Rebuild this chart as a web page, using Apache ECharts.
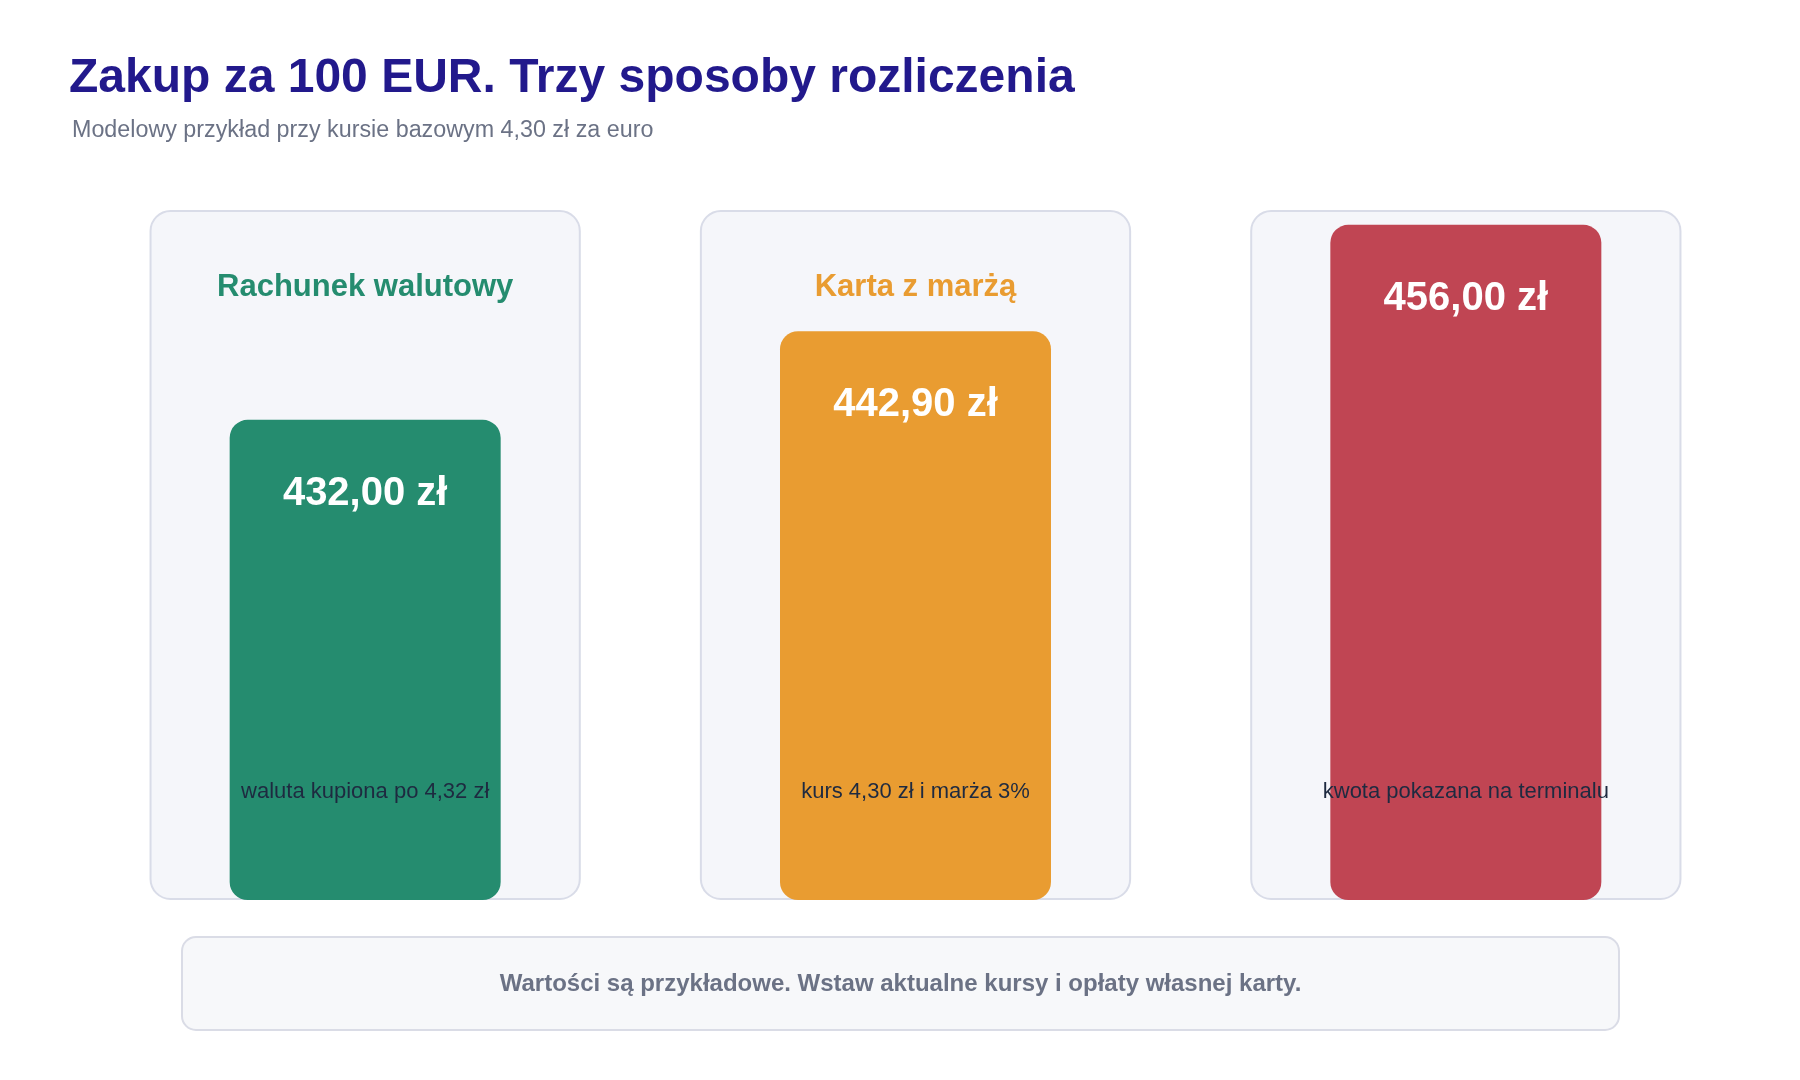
<!DOCTYPE html>
<html>
<head>
<meta charset="utf-8">
<title>Zakup za 100 EUR</title>
<script src="https://cdn.jsdelivr.net/npm/echarts@6/dist/echarts.min.js"></script>
<style>
  html, body { margin: 0; padding: 0; background: #ffffff; }
  #main { width: 1800px; height: 1080px; }
</style>
</head>
<body>
<div id="main"></div>
<script>
// dane
var categories = ['Rachunek walutowy', 'Karta z marżą', 'Płatność w PLN'];
var amounts = [432.00, 442.90, 456.00];
var notes = ['waluta kupiona po 4,32 zł', 'kurs 4,30 zł i marża 3%', 'kwota pokazana na terminalu'];
var colors = ['#258c6f', '#e99c31', '#c04553'];

var titleText = 'Zakup za 100 EUR. Trzy sposoby rozliczenia';
var subtitleText = 'Modelowy przykład przy kursie bazowym 4,30 zł za euro';
var footerText = 'Wartości są przykładowe. Wstaw aktualne kursy i opłaty własnej karty.';

var FONT = '"Liberation Sans", Arial, sans-serif';

function fmt(v) {
  return v.toFixed(2).replace('.', ',') + ' zł';
}

var chart = echarts.init(document.getElementById('main'));

var option = {
  backgroundColor: '#ffffff',
  animation: false,
  title: [
    {
      text: titleText,
      left: 69,
      top: 55,
      padding: 0,
      textStyle: { fontFamily: FONT, fontSize: 48, fontWeight: 'bold', color: '#22198c' }
    },
    {
      text: subtitleText,
      left: 72,
      top: 119,
      padding: 0,
      textStyle: { fontFamily: FONT, fontSize: 23.3, fontWeight: 'normal', color: '#6b7285' }
    }
  ],
  grid: { left: 90, right: 59, top: 211, bottom: 180 },
  xAxis: {
    type: 'category',
    data: categories,
    show: false
  },
  yAxis: {
    type: 'value',
    min: 372.9,
    max: 457.7,
    show: false
  },
  series: [
    // karty w tle
    {
      type: 'custom',
      z: 1,
      silent: true,
      data: categories.map(function (c, i) { return [i]; }),
      encode: { x: 0 },
      renderItem: function (params, api) {
        var i = params.dataIndex;
        var cs = params.coordSys;
        var cx = api.coord([api.value(0), 400])[0];
        var w = api.size([1, 0])[0] * 0.78;
        return {
          type: 'group',
          children: [
            {
              type: 'rect',
              shape: { x: cx - w / 2, y: cs.y, width: w, height: cs.height - 1, r: 20 },
              style: { fill: '#f5f6fa', stroke: '#d9dce8', lineWidth: 2 }
            },
            {
              type: 'text',
              style: {
                text: categories[i],
                x: cx,
                y: cs.y + 76,
                align: 'center',
                verticalAlign: 'middle',
                fontFamily: FONT,
                fontSize: 31,
                fontWeight: 'bold',
                fill: colors[i]
              }
            }
          ]
        };
      }
    },
    // słupki z kwotą
    {
      type: 'bar',
      z: 3,
      barWidth: 271,
      data: amounts.map(function (v, i) {
        return { value: v, itemStyle: { color: colors[i] } };
      }),
      itemStyle: { borderRadius: 18 },
      label: {
        show: true,
        position: 'insideTop',
        distance: 54,
        formatter: function (p) { return fmt(p.value); },
        fontFamily: FONT,
        fontSize: 40,
        fontWeight: 'bold',
        color: '#ffffff'
      }
    },
    // opis na dole słupka
    {
      type: 'bar',
      z: 4,
      silent: true,
      barWidth: 271,
      barGap: '-100%',
      data: amounts,
      itemStyle: { color: 'rgba(0,0,0,0)' },
      label: {
        show: true,
        position: 'insideBottom',
        distance: 97,
        formatter: function (p) { return notes[p.dataIndex]; },
        fontFamily: FONT,
        fontSize: 22,
        color: '#1e2a40'
      }
    }
  ],
  graphic: [
    {
      type: 'group',
      left: 181,
      top: 936,
      children: [
        {
          type: 'rect',
          shape: { x: 0, y: 0, width: 1437, height: 93, r: 14 },
          style: { fill: '#f7f8fa', stroke: '#dadce6', lineWidth: 2 }
        },
        {
          type: 'text',
          style: {
            text: footerText,
            x: 718.5,
            y: 47,
            align: 'center',
            verticalAlign: 'middle',
            fontFamily: FONT,
            fontSize: 24,
            fontWeight: 'bold',
            fill: '#6b7285'
          }
        }
      ]
    }
  ]
};

chart.setOption(option);
</script>
</body>
</html>
